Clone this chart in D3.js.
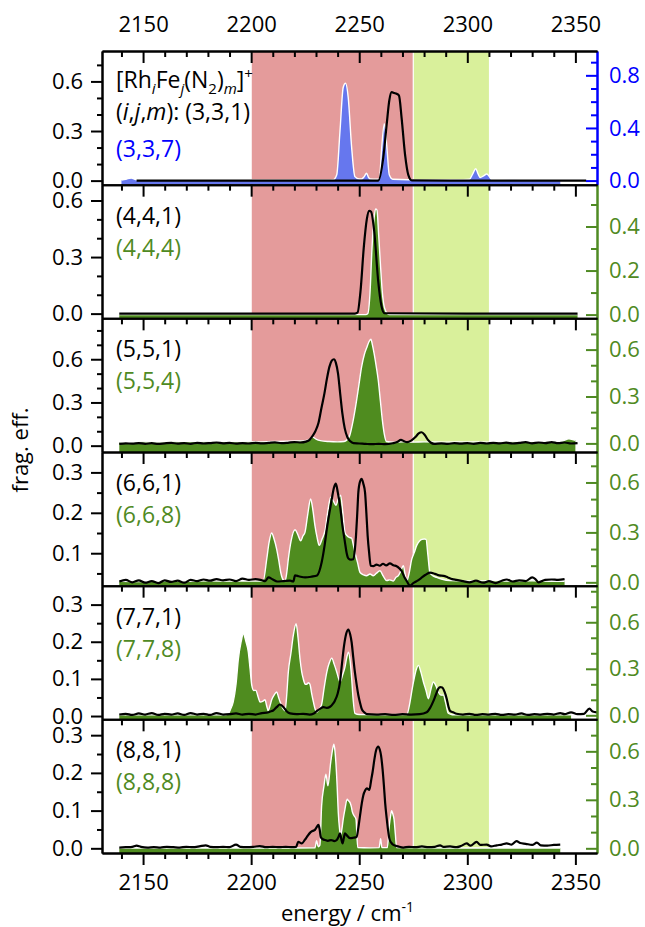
<!DOCTYPE html>
<html>
<head>
<meta charset="utf-8">
<script src="https://cdn.jsdelivr.net/npm/d3@7"></script>
<style>
  body { margin: 0; background: #fff; }
  svg { font-family: "Open Sans", sans-serif; }
</style>
</head>
<body>
<script>
const width = 645, height = 927;

// ---- data: [energy (cm-1), frag. eff.] ----
const p1Black = [[2147,0],[2180,0],[2220,0],[2250,0],[2258.8,0],[2261.1,0.137],[2262.7,0.34],[2263.9,0.484],[2265,0.535],[2266.2,0.53],[2267.3,0.525],[2268.4,0.514],[2269.6,0.38],[2271.2,0.157],[2272.7,0.035],[2274.3,0.002],[2300,0],[2330,0],[2355,0]];
const p1Fill = [[2140,0.004],[2142,0.01],[2144.5,0.02],[2147,0.006],[2160,0.004],[2180,0.005],[2200,0.004],[2220,0.005],[2235,0.004],[2238,0.006],[2239.6,0.044],[2241.1,0.377],[2242.6,0.71],[2243.7,0.74],[2244.9,0.633],[2246.5,0.25],[2248,0.03],[2250,0.012],[2251.1,0.012],[2252.3,0.03],[2253.4,0.056],[2254.3,0.025],[2255,0.012],[2258,0.01],[2259.3,0.015],[2260.4,0.25],[2261.6,0.433],[2262.7,0.27],[2263.9,0.044],[2265.5,0.01],[2280,0.006],[2295,0.006],[2301,0.01],[2302.5,0.05],[2303.9,0.09],[2305,0.05],[2305.9,0.023],[2307.5,0.035],[2309,0.05],[2310.2,0.03],[2311.3,0.008],[2325,0.005],[2343,0.005]];

const p2Black = [[2139,0],[2200,0],[2248,0],[2249.2,0.005],[2250.6,0.12],[2252.1,0.35],[2253.5,0.5],[2254.6,0.545],[2255.5,0.54],[2256.9,0.44],[2258.8,0.17],[2260.3,0.04],[2261.7,0.002],[2300,0],[2351,0]];
const p2Fill = [[2139,0],[2200,0],[2253,0],[2254,0.005],[2255,0.1],[2255.9,0.3],[2256.9,0.44],[2257.6,0.48],[2258.2,0.475],[2259,0.36],[2259.8,0.23],[2260.7,0.1],[2261.7,0.03],[2263,0.005],[2264,0],[2351,0]];

const p3Black = [[2139,0.012],[2142,0.016],[2145,0.014],[2148,0.018],[2151,0.013],[2154,0.017],[2157,0.012],[2160,0.016],[2163,0.019],[2166,0.014],[2169,0.017],[2172,0.013],[2175,0.02],[2178,0.015],[2181,0.018],[2184,0.022],[2187,0.016],[2190,0.019],[2193,0.014],[2196,0.018],[2199,0.015],[2202,0.02],[2205,0.016],[2208,0.019],[2211,0.023],[2214,0.017],[2217,0.02],[2220,0.025],[2223,0.022],[2225.3,0.028],[2227,0.04],[2228.2,0.062],[2229.7,0.1],[2231.1,0.155],[2232.5,0.26],[2233.9,0.363],[2235,0.46],[2236.2,0.547],[2237.3,0.59],[2238.3,0.6],[2239.2,0.575],[2240.2,0.5],[2241.2,0.36],[2242.2,0.224],[2243.3,0.12],[2244.5,0.06],[2245.9,0.03],[2247.3,0.017],[2250,0.015],[2253,0.012],[2256,0.01],[2259,0.013],[2262,0.01],[2265.5,0.017],[2267.5,0.025],[2269.3,0.04],[2270.8,0.03],[2272.2,0.025],[2274,0.035],[2276,0.06],[2277.5,0.085],[2278.9,0.093],[2280.3,0.075],[2281.8,0.04],[2283.2,0.02],[2284.6,0.013],[2288,0.016],[2291,0.012],[2294,0.018],[2297,0.014],[2300,0.017],[2303,0.013],[2306,0.019],[2309,0.015],[2312,0.02],[2315,0.016],[2318,0.021],[2321,0.015],[2324,0.019],[2327,0.024],[2330,0.016],[2333,0.022],[2336,0.018],[2339,0.025],[2342,0.017],[2345,0.022],[2348,0.015],[2351,0.018]];
const p3Fill = [[2139,0.008],[2145,0.006],[2150,0.01],[2160,0.008],[2170,0.012],[2180,0.01],[2190,0.012],[2200,0.01],[2210,0.012],[2220,0.015],[2225,0.018],[2227,0.025],[2228.5,0.04],[2230,0.028],[2232,0.018],[2236,0.012],[2240,0.01],[2243,0.012],[2245.4,0.043],[2246.8,0.12],[2248.3,0.234],[2249.7,0.36],[2251.1,0.49],[2252.4,0.57],[2253.6,0.617],[2254.5,0.65],[2255.4,0.666],[2256.1,0.63],[2256.9,0.574],[2257.9,0.49],[2258.8,0.404],[2259.8,0.27],[2260.7,0.149],[2261.6,0.06],[2262.6,0.012],[2266,0.008],[2270,0.01],[2275,0.008],[2280,0.01],[2290,0.008],[2300,0.01],[2310,0.008],[2320,0.01],[2330,0.012],[2338,0.01],[2344,0.015],[2347,0.03],[2350,0.02]];

const p4Black = [[2139,0.03],[2142,0.034],[2145,0.028],[2148,0.033],[2151,0.027],[2154,0.031],[2157,0.026],[2160,0.033],[2163,0.029],[2166,0.032],[2169,0.027],[2172,0.034],[2175,0.031],[2178,0.035],[2181,0.032],[2184,0.036],[2187,0.033],[2190,0.035],[2193,0.031],[2196,0.037],[2199,0.034],[2202,0.036],[2205,0.033],[2206.5,0.031],[2208,0.04],[2210,0.035],[2212,0.03],[2215,0.031],[2218,0.032],[2219.5,0.03],[2220.3,0.045],[2222,0.043],[2225,0.04],[2228,0.042],[2230.5,0.045],[2232.6,0.077],[2234,0.12],[2235,0.16],[2236.2,0.2],[2237.3,0.234],[2238.3,0.262],[2239.2,0.272],[2240.1,0.25],[2241.1,0.218],[2242.3,0.165],[2243.4,0.127],[2244.2,0.1],[2245,0.087],[2246.2,0.084],[2247.3,0.085],[2248,0.11],[2248.5,0.143],[2249.1,0.2],[2249.6,0.251],[2250.4,0.278],[2251.1,0.284],[2251.9,0.272],[2252.7,0.25],[2253.3,0.2],[2253.9,0.143],[2254.6,0.1],[2255.3,0.069],[2256.5,0.068],[2258,0.072],[2259.5,0.069],[2261,0.074],[2262.5,0.07],[2264.2,0.075],[2265.8,0.07],[2267.3,0.068],[2268.5,0.063],[2269.6,0.056],[2270.8,0.042],[2272,0.031],[2273.5,0.02],[2275,0.026],[2276.6,0.031],[2278.5,0.038],[2280.5,0.046],[2282.7,0.052],[2285,0.049],[2287,0.045],[2289,0.044],[2291,0.04],[2293,0.036],[2295,0.034],[2298,0.031],[2301,0.028],[2304,0.032],[2307.4,0.027],[2310,0.031],[2313,0.026],[2316,0.032],[2318.2,0.035],[2321,0.03],[2324,0.033],[2327,0.031],[2330,0.04],[2331.5,0.036],[2333,0.028],[2336,0.034],[2339,0.035],[2342,0.034],[2345,0.036]];
const p4Fill = [[2139,0.006],[2150,0.005],[2160,0.008],[2170,0.006],[2180,0.009],[2190,0.007],[2200,0.008],[2204,0.008],[2205.6,0.01],[2207.2,0.139],[2208.3,0.24],[2209.5,0.296],[2210.6,0.26],[2211.8,0.2],[2212.8,0.13],[2213.7,0.059],[2215,0.012],[2215.7,0.008],[2216.5,0.06],[2217.2,0.139],[2218.5,0.25],[2220.3,0.316],[2221.5,0.29],[2222.9,0.25],[2224,0.28],[2224.9,0.3],[2226.2,0.41],[2227.5,0.501],[2228.5,0.44],[2229.5,0.342],[2230.5,0.27],[2231.5,0.222],[2232.8,0.26],[2234.2,0.313],[2235.5,0.43],[2236.8,0.511],[2238,0.49],[2239.2,0.463],[2240.3,0.5],[2241.4,0.523],[2242.4,0.42],[2243.4,0.3],[2244.4,0.28],[2245.4,0.27],[2246.5,0.265],[2247.2,0.23],[2248,0.181],[2249.2,0.12],[2250.4,0.059],[2252,0.045],[2253.4,0.04],[2255,0.05],[2256.5,0.04],[2258,0.055],[2259.6,0.07],[2261,0.04],[2262.7,0.01],[2264,0.015],[2265.8,0.008],[2267,0.03],[2268.1,0.04],[2269.3,0.07],[2270.4,0.1],[2271.2,0.05],[2272,0.008],[2273,0.05],[2274.3,0.139],[2275.5,0.18],[2276.6,0.222],[2278,0.25],[2279,0.258],[2280.1,0.26],[2280.9,0.258],[2281.8,0.16],[2282.7,0.059],[2284,0.04],[2285.8,0.03],[2288,0.02],[2292,0.01],[2300,0.008],[2310,0.01],[2320,0.007],[2330,0.009],[2340,0.006],[2345,0.006]];

const p5Black = [[2139,0.004],[2142,0.006],[2145,0.003],[2148,0.007],[2151,0.004],[2154,0.008],[2157,0.003],[2160,0.006],[2163,0.004],[2166,0.007],[2169,0.003],[2172,0.008],[2175,0.004],[2178,0.006],[2181,0.003],[2184,0.008],[2187,0.004],[2190,0.005],[2193,0.007],[2196,0.004],[2199,0.006],[2202,0.004],[2205,0.008],[2207.2,0.009],[2208.8,0.012],[2210.2,0.015],[2211.8,0.024],[2213.3,0.031],[2214.8,0.025],[2216.4,0.013],[2218,0.007],[2221,0.005],[2224,0.006],[2227,0.004],[2229,0.007],[2230.3,0.013],[2232,0.02],[2233.4,0.024],[2235,0.022],[2236.5,0.025],[2237.7,0.032],[2238.8,0.042],[2240,0.06],[2241.1,0.091],[2242,0.14],[2243,0.19],[2244,0.222],[2245,0.233],[2245.8,0.22],[2246.5,0.198],[2247.2,0.16],[2248,0.118],[2248.8,0.085],[2249.6,0.056],[2250.4,0.035],[2251.1,0.02],[2252.3,0.01],[2253.5,0.005],[2258,0.004],[2262,0.005],[2266,0.003],[2270,0.005],[2274,0.004],[2278,0.005],[2281.2,0.01],[2282.8,0.022],[2284.3,0.04],[2285.5,0.058],[2286.6,0.074],[2287.5,0.078],[2288.4,0.077],[2289.5,0.065],[2290.5,0.046],[2291.3,0.025],[2292,0.014],[2293.5,0.01],[2295,0.006],[2298,0.004],[2301,0.006],[2304,0.003],[2307,0.005],[2310,0.004],[2313,0.006],[2316,0.003],[2319,0.005],[2322,0.004],[2325,0.007],[2328,0.003],[2331,0.005],[2334,0.004],[2337,0.006],[2340,0.004],[2343,0.008],[2345,0.005],[2348,0.01],[2351,0.005],[2354,0.006],[2356.5,0.02],[2358,0.012],[2360,0.01]];
const p5Fill = [[2139,0.003],[2160,0.003],[2180,0.003],[2188,0.003],[2189.4,0.01],[2190.5,0.04],[2191.7,0.086],[2193,0.2],[2194.1,0.365],[2195.3,0.47],[2196.4,0.526],[2197.5,0.48],[2198.7,0.407],[2199.5,0.3],[2200.3,0.193],[2201.2,0.16],[2202.2,0.161],[2203.2,0.12],[2204.1,0.086],[2205.3,0.09],[2206.4,0.1],[2207.2,0.06],[2207.9,0.03],[2208.7,0.06],[2209.5,0.1],[2210.6,0.13],[2211.8,0.15],[2212.6,0.12],[2213.3,0.09],[2214.5,0.05],[2215.7,0.03],[2216.4,0.12],[2217.2,0.279],[2218.4,0.4],[2219.5,0.515],[2220.8,0.59],[2221.7,0.5],[2222.6,0.365],[2223.4,0.28],[2224.1,0.236],[2225,0.2],[2225.7,0.2],[2226.5,0.21],[2227.2,0.2],[2228,0.14],[2228.8,0.086],[2229.6,0.04],[2230.3,0.02],[2231.5,0.04],[2232.6,0.07],[2233.8,0.18],[2235,0.279],[2236.2,0.34],[2237.3,0.369],[2238.4,0.33],[2239.6,0.279],[2240.4,0.24],[2241.1,0.215],[2242.3,0.26],[2243.4,0.311],[2244.2,0.37],[2245,0.407],[2245.8,0.35],[2246.5,0.24],[2247.2,0.1],[2248,0.013],[2250,0.005],[2260,0.004],[2272,0.005],[2273.5,0.086],[2274.5,0.17],[2275.5,0.243],[2276.5,0.3],[2277.4,0.322],[2278.5,0.28],[2279.7,0.215],[2280.9,0.16],[2282,0.107],[2283.2,0.17],[2284.3,0.215],[2285.5,0.19],[2286.6,0.15],[2287.8,0.13],[2288.9,0.13],[2290,0.08],[2291.2,0.013],[2293,0.004],[2300,0.003],[2320,0.003],[2340,0.003],[2348,0.003]];

const p6Black = [[2139,0.002],[2142,0.003],[2145,0.004],[2147,0.007],[2149,0.004],[2152,0.002],[2155,0.003],[2158,0.002],[2161,0.004],[2164,0.003],[2167,0.002],[2170,0.004],[2173,0.003],[2176,0.005],[2179,0.008],[2181,0.004],[2184,0.003],[2187,0.004],[2190,0.003],[2193,0.01],[2195,0.004],[2198,0.003],[2201,0.004],[2204,0.006],[2207,0.003],[2210,0.004],[2213,0.003],[2216,0.004],[2219,0.003],[2220.8,0.004],[2221.8,0.017],[2223.4,0.013],[2224.9,0.023],[2226,0.032],[2227.2,0.041],[2228.4,0.046],[2229.5,0.049],[2230.3,0.056],[2231.1,0.062],[2231.7,0.05],[2232.2,0.03],[2233.2,0.024],[2234.2,0.022],[2235.5,0.02],[2237,0.022],[2238.5,0.019],[2239.6,0.022],[2240.4,0.03],[2241.1,0.04],[2241.7,0.025],[2242.3,0.013],[2242.9,0.028],[2243.4,0.04],[2244.2,0.035],[2245.7,0.027],[2247.2,0.028],[2248.8,0.03],[2249.6,0.055],[2250.4,0.088],[2251.2,0.12],[2251.9,0.141],[2252.7,0.153],[2253.5,0.159],[2254.7,0.155],[2255.5,0.18],[2256.2,0.203],[2257,0.235],[2257.8,0.26],[2258.8,0.27],[2259.5,0.262],[2260.1,0.246],[2260.8,0.21],[2261.4,0.168],[2262,0.12],[2262.7,0.08],[2263.3,0.05],[2263.9,0.027],[2264.8,0.015],[2265.8,0.009],[2268,0.005],[2270.4,0.002],[2273,0.004],[2276,0.003],[2279,0.005],[2282,0.003],[2285,0.004],[2287.4,0.008],[2289,0.004],[2292,0.005],[2295,0.003],[2297,0.006],[2299.7,0.013],[2301.5,0.007],[2304.3,0.017],[2306,0.009],[2309,0.01],[2311,0.005],[2313.6,0.008],[2316,0.01],[2318.2,0.013],[2320.5,0.01],[2322.8,0.019],[2324.5,0.014],[2327,0.012],[2330,0.009],[2332.2,0.015],[2334,0.008],[2337,0.007],[2340,0.009],[2343,0.01]];
const p6Fill = [[2139,0.002],[2160,0.002],[2190,0.002],[2220,0.002],[2229.5,0.003],[2230.3,0.047],[2231,0.01],[2231.8,0.02],[2232.6,0.263],[2233.7,0.386],[2234.6,0.459],[2235.5,0.386],[2236.8,0.531],[2237.7,0.613],[2238.3,0.644],[2238.8,0.6],[2239.2,0.531],[2239.8,0.38],[2240.3,0.222],[2240.9,0.12],[2241.4,0.078],[2242,0.12],[2242.6,0.181],[2243.4,0.243],[2244.4,0.304],[2245,0.295],[2245.7,0.284],[2246.3,0.26],[2246.9,0.222],[2247.7,0.2],[2248.5,0.181],[2249.3,0.005],[2255,0.003],[2259.2,0.004],[2259.9,0.06],[2260.5,0.004],[2263,0.004],[2263.9,0.14],[2264.5,0.2],[2265,0.232],[2265.6,0.21],[2266.1,0.181],[2266.7,0.09],[2267.3,0.004],[2280,0.003],[2300,0.002],[2320,0.002],[2343,0.002]];

const blackSeries = [p1Black, p2Black, p3Black, p4Black, p5Black, p6Black];
const fillSeries = [p1Fill, p2Fill, p3Fill, p4Fill, p5Fill, p6Fill];
const blackLabels = ["(3,3,1)", "(4,4,1)", "(5,5,1)", "(6,6,1)", "(7,7,1)", "(8,8,1)"];
const fillLabels = ["(3,3,7)", "(4,4,4)", "(5,5,4)", "(6,6,8)", "(7,7,8)", "(8,8,8)"];

// ---- axes ----
const xMajor = [2150, 2200, 2250, 2300, 2350];
const xMinor = [2140, 2160, 2170, 2180, 2190, 2210, 2220, 2230, 2240, 2260, 2270, 2280, 2290, 2310, 2320, 2330, 2340];
const leftDomains = [[-0.0245, 0.784], [-0.025, 0.684], [-0.044, 0.884], [0.0197, 0.3505], [-0.0089, 0.351], [-0.0124, 0.342]];
const rightDomains = [[-0.031, 0.985], [-0.017, 0.59], [-0.055, 0.8], [-0.02, 0.783], [-0.026, 0.836], [-0.029, 0.798]];
const leftMajor = [[0, 0.3, 0.6], [0, 0.3, 0.6], [0, 0.3, 0.6], [0.1, 0.2, 0.3], [0, 0.1, 0.2, 0.3], [0, 0.1, 0.2, 0.3]];
const leftMinor = [[0.1, 0.2, 0.4, 0.5, 0.7], [0.1, 0.2, 0.4, 0.5], [0.1, 0.2, 0.4, 0.5, 0.7, 0.8], [0.05, 0.15, 0.25], [0.05, 0.15, 0.25], [0.05, 0.15, 0.25]];
const rightMajor = [[0, 0.4, 0.8], [0, 0.2, 0.4], [0, 0.3, 0.6], [0, 0.3, 0.6], [0, 0.3, 0.6], [0, 0.3, 0.6]];
const rightMinor = [[0.1, 0.2, 0.3, 0.5, 0.6, 0.7, 0.9], [0.1, 0.3, 0.5], [0.1, 0.2, 0.4, 0.5, 0.7], [0.1, 0.2, 0.4, 0.5, 0.7], [0.1, 0.2, 0.4, 0.5, 0.7, 0.8], [0.1, 0.2, 0.4, 0.5, 0.7]];

const redBand = [2200, 2275];
const greenBand = [2275, 2310];

const blue = "#0000ff", green = "#4f8a23";
const axisColors = [blue, green, green, green, green, green];
const fillColors = ["#6677ee", "#4f8c1f", "#4f8c1f", "#4f8c1f", "#4f8c1f", "#4f8c1f"];

const left = 102, right = 597, top0 = 51, bottom0 = 853;
const ph = (bottom0 - top0) / 6;
const fmt = d3.format(".1f");

const x = d3.scaleLinear().domain([2131, 2360]).range([left, right]);

const svg = d3.select("body").append("svg")
    .attr("width", width)
    .attr("height", height)
    .attr("viewBox", [0, 0, width, height]);

svg.append("rect").attr("width", width).attr("height", height).attr("fill", "#fff");

// shaded energy regions
svg.append("rect")
    .attr("x", x(redBand[0])).attr("y", top0)
    .attr("width", x(redBand[1]) - x(redBand[0])).attr("height", bottom0 - top0)
    .attr("fill", "#e49b9b");
svg.append("rect")
    .attr("x", x(greenBand[0])).attr("y", top0)
    .attr("width", x(greenBand[1]) - x(greenBand[0])).attr("height", bottom0 - top0)
    .attr("fill", "#d9f09b");
[redBand[0], greenBand[0]].forEach(e => {
    svg.append("line")
        .attr("x1", x(e)).attr("x2", x(e)).attr("y1", top0).attr("y2", bottom0)
        .attr("stroke", "#fff").attr("stroke-width", 1.2);
});

function styleAxis(g, color) {
    g.attr("font-size", 22).attr("font-family", "Open Sans, sans-serif").attr("color", color);
    g.selectAll("line").attr("stroke-width", 2);
    g.select(".domain").attr("stroke-width", 2);
}

blackSeries.forEach((series, i) => {
    const y0 = top0 + i * ph, y1 = y0 + ph;
    const yL = d3.scaleLinear().domain(leftDomains[i]).range([y1, y0]);
    const yR = d3.scaleLinear().domain(rightDomains[i]).range([y1, y0]);

    const clipId = "clip" + i;
    svg.append("clipPath").attr("id", clipId)
        .append("rect").attr("x", left).attr("y", y0).attr("width", right - left).attr("height", ph);

    const g = svg.append("g").attr("clip-path", `url(#${clipId})`);

    const area = d3.area()
        .x(d => x(d[0])).y0(y1).y1(d => yR(d[1]))
        .curve(d3.curveMonotoneX);
    const outline = d3.line()
        .x(d => x(d[0])).y(d => yR(d[1]))
        .curve(d3.curveMonotoneX);
    const line = d3.line()
        .x(d => x(d[0])).y(d => yL(d[1]))
        .curve(d3.curveMonotoneX);

    g.append("path").datum(fillSeries[i])
        .attr("d", area).attr("fill", fillColors[i]);
    g.append("path").datum(fillSeries[i])
        .attr("d", outline).attr("fill", "none")
        .attr("stroke", "#fff").attr("stroke-width", 1.4);
    g.append("path").datum(series)
        .attr("d", line).attr("fill", "none")
        .attr("stroke", "#000").attr("stroke-width", 2.2)
        .attr("stroke-linejoin", "round");

    // left axis
    svg.append("g").attr("transform", `translate(${left},0)`)
        .call(d3.axisLeft(yL).tickValues(leftMinor[i]).tickFormat("").tickSizeInner(5).tickSizeOuter(0))
        .call(styleAxis, "#000");
    svg.append("g").attr("transform", `translate(${left},0)`)
        .call(d3.axisLeft(yL).tickValues(leftMajor[i]).tickFormat(fmt).tickSizeInner(11).tickSizeOuter(0).tickPadding(8))
        .call(styleAxis, "#000");

    // right axis, ticks inward
    svg.append("g").attr("transform", `translate(${right},0)`)
        .call(d3.axisRight(yR).tickValues(rightMinor[i]).tickFormat("").tickSizeInner(-6).tickSizeOuter(0))
        .call(styleAxis, axisColors[i]);
    svg.append("g").attr("transform", `translate(${right},0)`)
        .call(d3.axisRight(yR).tickValues(rightMajor[i]).tickFormat(fmt).tickSizeInner(-11).tickSizeOuter(0).tickPadding(12))
        .call(styleAxis, axisColors[i]);

    // top edge ticks, inward
    svg.append("g").attr("transform", `translate(0,${y0})`)
        .call(d3.axisBottom(x).tickValues(xMinor).tickFormat("").tickSizeInner(6).tickSizeOuter(0))
        .call(styleAxis, "#000");
    if (i === 0) {
        svg.append("g").attr("transform", `translate(0,${y0})`)
            .call(d3.axisTop(x).tickValues(xMajor).tickFormat(d3.format("d")).tickSizeInner(-12).tickSizeOuter(0).tickPadding(19))
            .call(styleAxis, "#000");
    } else {
        svg.append("g").attr("transform", `translate(0,${y0})`)
            .call(d3.axisBottom(x).tickValues(xMajor).tickFormat("").tickSizeInner(12).tickSizeOuter(0))
            .call(styleAxis, "#000");
    }

    // labels
    if (i === 0) {
        const t1 = svg.append("text").attr("x", 116).attr("y", y0 + 37).attr("font-size", 23).attr("fill", "#000");
        t1.append("tspan").text("[Rh");
        t1.append("tspan").attr("font-size", 15).attr("font-style", "italic").attr("dy", 6).text("i");
        t1.append("tspan").attr("dy", -6).text("Fe");
        t1.append("tspan").attr("font-size", 15).attr("font-style", "italic").attr("dy", 6).text("j");
        t1.append("tspan").attr("dy", -6).text("(N");
        t1.append("tspan").attr("font-size", 15).attr("dy", 6).text("2");
        t1.append("tspan").attr("dy", -6).text(")");
        t1.append("tspan").attr("font-size", 15).attr("font-style", "italic").attr("dy", 6).text("m");
        t1.append("tspan").attr("dy", -6).text("]");
        t1.append("tspan").attr("font-size", 15).attr("dy", -9).text("+");

        const t2 = svg.append("text").attr("x", 116).attr("y", y0 + 69).attr("font-size", 23).attr("fill", "#000");
        t2.append("tspan").text("(");
        t2.append("tspan").attr("font-style", "italic").text("i");
        t2.append("tspan").text(",");
        t2.append("tspan").attr("font-style", "italic").text("j");
        t2.append("tspan").text(",");
        t2.append("tspan").attr("font-style", "italic").text("m");
        t2.append("tspan").text("): " + blackLabels[i]);

        svg.append("text").attr("x", 116).attr("y", y0 + 106).attr("font-size", 23)
            .attr("fill", axisColors[i]).text(fillLabels[i]);
    } else {
        svg.append("text").attr("x", 116).attr("y", y0 + 39).attr("font-size", 23)
            .attr("fill", "#000").text(blackLabels[i]);
        svg.append("text").attr("x", 116).attr("y", y0 + 71).attr("font-size", 23)
            .attr("fill", axisColors[i]).text(fillLabels[i]);
    }
});

// bottom axis, outward ticks with labels
svg.append("g").attr("transform", `translate(0,${bottom0})`)
    .call(d3.axisBottom(x).tickValues(xMinor).tickFormat("").tickSizeInner(6).tickSizeOuter(0))
    .call(styleAxis, "#000");
svg.append("g").attr("transform", `translate(0,${bottom0})`)
    .call(d3.axisBottom(x).tickValues(xMajor).tickFormat(d3.format("d")).tickSizeInner(12).tickSizeOuter(0).tickPadding(9))
    .call(styleAxis, "#000");

// axis titles
const xt = svg.append("text")
    .attr("x", (left + right) / 2 - 2).attr("y", 921)
    .attr("text-anchor", "middle").attr("font-size", 22).attr("fill", "#000");
xt.append("tspan").text("energy / cm");
xt.append("tspan").attr("font-size", 14).attr("dy", -9).text("-1");

svg.append("text")
    .attr("transform", "translate(28,450) rotate(-90)")
    .attr("text-anchor", "middle").attr("font-size", 22).attr("fill", "#000")
    .text("frag. eff.");
</script>
</body>
</html>
